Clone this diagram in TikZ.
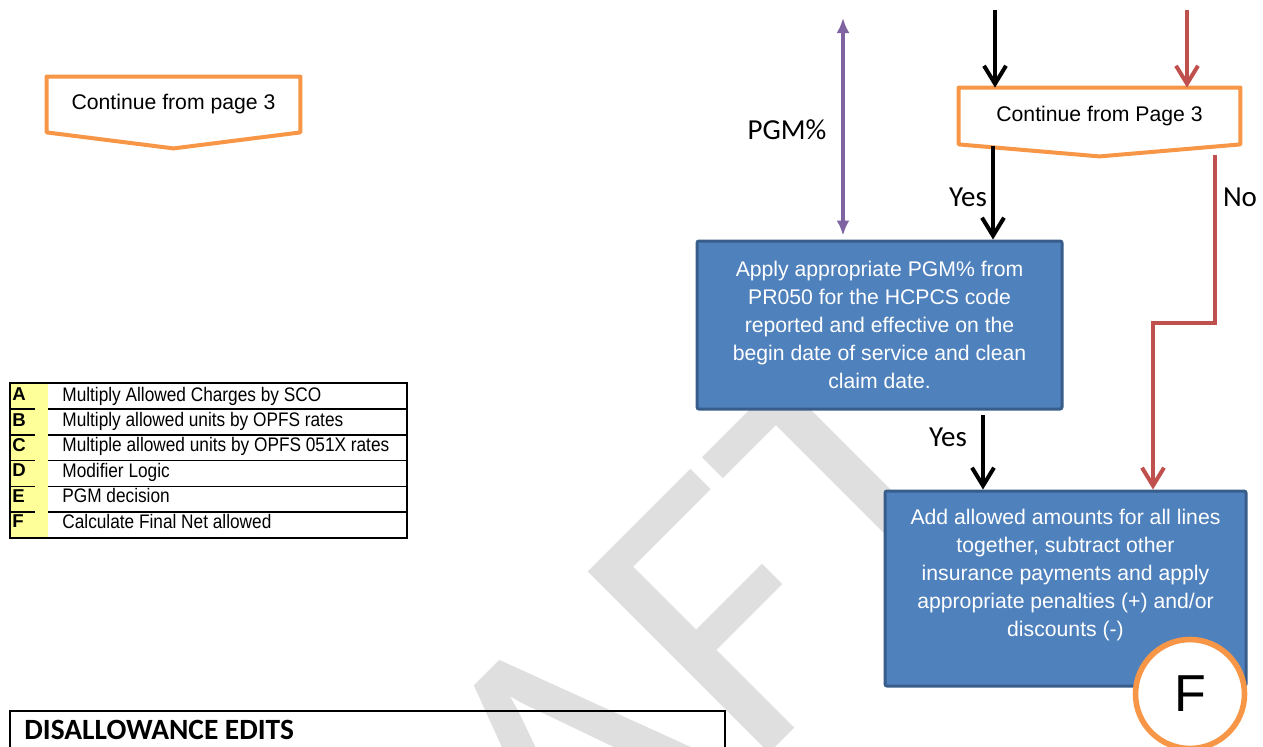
\documentclass[tikz,border=0pt]{standalone}
\usepackage{fontspec}
\setmainfont{Liberation Sans}
\newfontfamily\calibri{Carlito}
\newfontfamily\narrowfont[FakeStretch=0.88]{Liberation Sans}
\usetikzlibrary{arrows.meta,calc,positioning}
\definecolor{pageorange}{HTML}{F79646}
\definecolor{boxblue}{HTML}{4F81BD}
\definecolor{boxedge}{HTML}{385D8A}
\definecolor{nored}{HTML}{C0504D}
\definecolor{pgmpurple}{HTML}{8064A2}
\definecolor{keyyellow}{HTML}{FFFF99}
\definecolor{wmgray}{HTML}{DFDFDF}
\tikzset{pagecon/.style={inner sep=0pt, font=\fontsize{10.6}{14}\selectfont},
    pageline/.style={draw=pageorange, line width=2pt, line join=round, fill=white},
    bluebox/.style={draw=boxedge, fill=boxblue, line width=1.5pt, rounded corners=1pt,
        text=white, align=center, font=\fontsize{10.6}{14}\selectfont},
    boxtext/.style={text=white, align=center, font=\fontsize{10.6}{14}\selectfont},
    flowarrow/.style={line width=2pt, -{Straight Barb[length=9pt,width=11pt,line width=2pt]}},
    noarrow/.style={flowarrow, draw=nored, line join=miter},
    pgmarrow/.style={draw=pgmpurple, line width=1.6pt, {Latex[length=7.5pt,width=6.5pt]}-{Latex[length=7.5pt,width=6.5pt]}},
    flowlabel/.style={font=\calibri\fontsize{14.5}{16}\selectfont, inner sep=0pt},
    fcircle/.style={circle, draw=pageorange, fill=white, line width=2.8pt, minimum size=54.5pt,
        inner sep=0pt, font=\fontsize{26}{26}\selectfont},
    tabline/.style={line width=0.8pt},
    keyletter/.style={anchor=west, inner sep=0pt, text height=6.7pt, text depth=0pt,
        font=\bfseries\fontsize{9.3}{10}\selectfont},
    keytext/.style={anchor=west, inner sep=0pt, text height=7pt, text depth=0pt,
        font=\narrowfont\fontsize{9.8}{10}\selectfont},
    headtext/.style={anchor=west, inner sep=0pt, text height=9.3pt, text depth=0pt,
        font=\calibri\bfseries\fontsize{14.7}{16}\selectfont},
    wmark/.style={anchor=base west, rotate=45, inner sep=0pt, text=wmgray,
        font=\calibri\fontsize{200}{200}\selectfont},
    }

\begin{document}
\begin{tikzpicture}[x=0.5pt, y=-0.5pt]
	\useasboundingbox (0,0) rectangle (1263,746);
	% watermark behind everything
	\begin{scope}
	\clip (0,0) rectangle (1263,746);
	\node[wmark] (draft) at (259,1264) {DRAFT};
	\end{scope}

	% off page connectors
	\node[pagecon, minimum width=126.5pt, minimum height=27.5pt] (conleft) at (173.5,104.5) {};
	\draw[pageline] (conleft.north west) -- (conleft.north east) -- (conleft.south east)
		-- ($(conleft.south)+(0,16)$) -- (conleft.south west) -- cycle;
	\node[pagecon] (conlefttext) at (conleft.center) {Continue from page 3};

	\node[pagecon, minimum width=140.5pt, minimum height=28pt] (conright) at (1099.5,116) {};
	\draw[pageline] (conright.north west) -- (conright.north east) -- (conright.south east)
		-- ($(conright.south)+(0,12)$) -- (conright.south west) -- cycle;
	\node[pagecon] (conrighttext) at (conright.center) {Continue from Page 3};

	% process boxes
	\node[bluebox, minimum width=182.5pt, minimum height=84pt] (pgmbox) at (879.5,325)
		{Apply appropriate PGM\% from\\PR050 for the HCPCS code\\reported and effective on the\\begin date of service and clean\\claim date.};
	\node[bluebox, minimum width=180.5pt, minimum height=97.5pt] (addbox) at (1065.5,588.5) {};
	\node[boxtext] (addtext) at ([yshift=7pt]addbox.center)
		{Add allowed amounts for all lines\\together, subtract other\\insurance payments and apply\\appropriate penalties (+) and/or\\discounts (-)};
	\node[fcircle] (fmark) at (1190,694) {F};

	% connectors
	\coordinate (blacktop) at (995,10);
	\coordinate (redtop) at (1187,10);
	\coordinate (pgmtop) at (843,18);
	\coordinate (yesA) at (993,146);
	\coordinate (yesB) at (983,415);
	\coordinate (noA) at (1215,155);
	\coordinate (noB) at (1153,323);
	\draw[flowarrow] (blacktop) -- (blacktop |- conright.north);
	\draw[noarrow] (redtop) -- (redtop |- conright.north);
	\draw[pgmarrow] (pgmtop) -- ([yshift=2pt]pgmtop |- pgmbox.north);
	\draw[flowarrow] (yesA) -- (yesA |- pgmbox.north);
	\draw[flowarrow] (yesB) -- (yesB |- addbox.north);
	\draw[noarrow] (noA) |- (noB) -- (noB |- addbox.north);
	\node[flowlabel] (pgmlabel) at (787,130) {PGM\%};
	\node[flowlabel] (yeslabelA) at (968,197) {Yes};
	\node[flowlabel] (nolabel) at (1240,197) {No};
	\node[flowlabel] (yeslabelB) at (948,437) {Yes};

	% key table
	\fill[keyyellow] (10,383) rectangle (48,538);
	\draw[tabline] (10,383) rectangle (407,538);
	\draw[tabline] (10,408.8) -- (35,408.8) (48,408.8) -- (407,408.8);
	\draw[tabline] (10,434.7) -- (35,434.7) (48,434.7) -- (407,434.7);
	\draw[tabline] (10,460.5) -- (35,460.5) (48,460.5) -- (407,460.5);
	\draw[tabline] (10,486.3) -- (35,486.3) (48,486.3) -- (407,486.3);
	\draw[tabline] (10,512.2) -- (35,512.2) (48,512.2) -- (407,512.2);
	\node[keyletter] (keyA) at (12,394) {A};
	\node[keyletter] (keyB) at (12,419.4) {B};
	\node[keyletter] (keyC) at (12,444.8) {C};
	\node[keyletter] (keyD) at (12,470.2) {D};
	\node[keyletter] (keyE) at (12,495.6) {E};
	\node[keyletter] (keyF) at (12,521) {F};
	\node[keytext] (descA) at (62,394) {Multiply Allowed Charges by SCO};
	\node[keytext] (descB) at (62,419.4) {Multiply allowed units by OPFS rates};
	\node[keytext] (descC) at (62,444.8) {Multiple allowed units by OPFS 051X rates};
	\node[keytext] (descD) at (62,470.2) {Modifier Logic};
	\node[keytext] (descE) at (62,495.6) {PGM decision};
	\node[keytext] (descF) at (62,521) {Calculate Final Net allowed};

	% disallowance edits heading
	\draw[line width=1pt] (10,760) |- (725,711) -- (725,760);
	\node[headtext] (dishead) at (24,730) {DISALLOWANCE EDITS};
\end{tikzpicture}
\end{document}
